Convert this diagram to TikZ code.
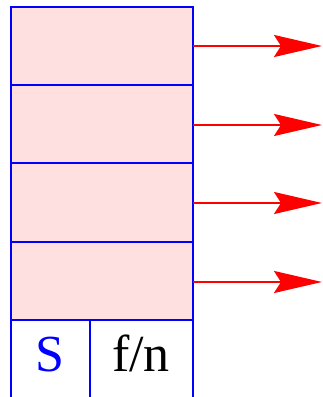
\documentclass[tikz,border=0pt]{standalone}
\usepackage{fontspec}
\setmainfont{Liberation Serif}
\usetikzlibrary{arrows.meta}
\definecolor{cellpink}{RGB}{255,224,224}
\tikzset{
  cell/.style={draw=blue, fill=cellpink, line width=2.4pt},
  edge/.style={draw=blue, line width=2.4pt},
  outarrow/.style={draw=red, line width=2pt, -{Stealth[length=48pt,width=22pt,inset=7pt]}},
  lbl/.style={font=\fontsize{52}{52}\selectfont, inner sep=0pt, anchor=base}
}
\begin{document}
\begin{tikzpicture}[x=1pt,y=1pt]
\useasboundingbox (0,0) rectangle (322,397);
% cells (y flipped: tikz y = 397 - pixel y)
\draw[cell] (11,390) rectangle (193,312);
\draw[cell] (11,312) rectangle (193,234);
\draw[cell] (11,234) rectangle (193,155);
\draw[cell] (11,155) rectangle (193,77);
% bottom row
\coordinate (bl) at (11,77);
\coordinate (br) at (193,77);
\coordinate (bm) at (90,77);
\coordinate (blb) at (11,0);
\coordinate (brb) at (193,0);
\coordinate (bmb) at (90,0);
\draw[edge] (bl) -- (blb);
\draw[edge] (br) -- (brb);
\draw[edge] (bm) -- (bmb);
\node[lbl, text=blue] (s) at (50,25) {S};
\node[lbl, text=black] (fn) at (141,25) {f/n};
% arrows
\foreach \y [count=\i] in {351,272,194,115}{
  \coordinate (a\i) at (193,\y);
  \coordinate (t\i) at (322,\y);
  \draw[outarrow] (a\i) -- (t\i);
}
\end{tikzpicture}
\end{document}
